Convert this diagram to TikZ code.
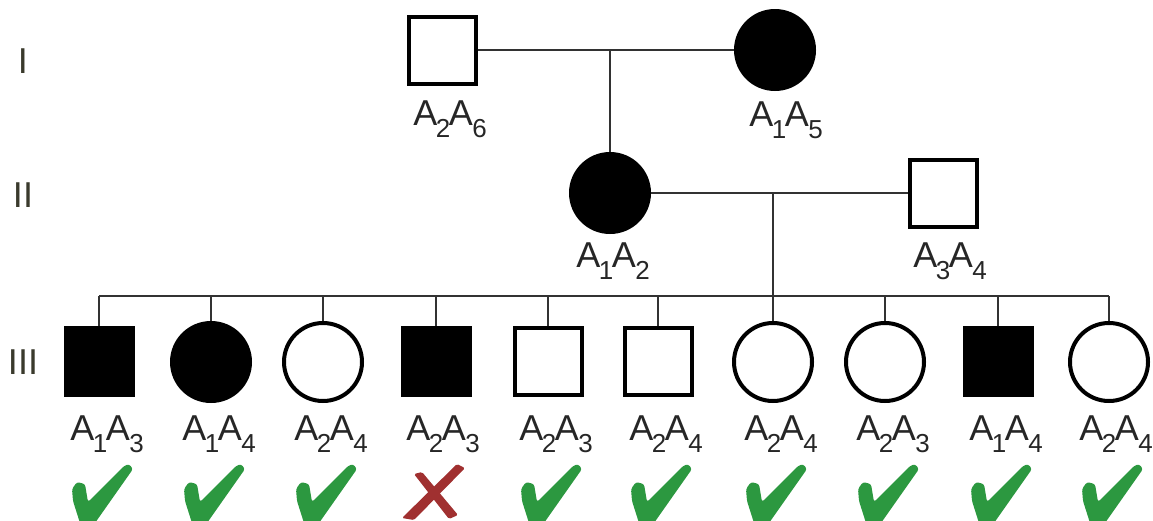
\documentclass[tikz,border=0pt]{standalone}
\usepackage{fontspec}
\setmainfont{Liberation Sans}
\definecolor{chkgreen}{RGB}{44,152,64}
\definecolor{xred}{RGB}{160,48,48}
\definecolor{conn}{RGB}{50,50,50}
\definecolor{genlab}{RGB}{58,58,44}
\newcommand{\gtp}[2]{A\kern-1.5pt\raisebox{-12pt}{\fontsize{26}{26}\selectfont #1}\kern-1.5pt A\kern-0.5pt\raisebox{-12pt}{\fontsize{26}{26}\selectfont #2}}
\tikzset{
  male/.style={rectangle, draw=black, line width=4pt, minimum size=67pt, inner sep=0pt, fill=white},
  female/.style={circle, draw=black, line width=4pt, minimum size=78pt, inner sep=0pt, fill=white},
  aff/.style={fill=black},
  line/.style={draw=conn, line width=2.2pt},
  gtlab/.style={anchor=base, inner sep=0pt, font=\fontsize{36}{40}\selectfont, text=black!85},
  gen/.style={anchor=center, inner sep=0pt, font=\fontsize{36}{40}\selectfont, text=genlab},
  chk/.pic={\fill[chkgreen, rounded corners=2.5pt] (-27,24) -- (-22,17) -- (-14,19) -- (-11,37) -- (25,1) -- (30,-1) -- (34,4) -- (-4,58) -- (-19,58) -- (-26,36) -- cycle;},
  xmark/.pic={\fill[xred, rounded corners=1.5pt] (21,-1) -- (29,3) -- (-22,55) -- (-34,53) -- cycle;
              \fill[xred, rounded corners=1.5pt] (-22,9) -- (-14,7) -- (22,50) -- (13,54) -- cycle;}
}
\begin{document}
\begin{tikzpicture}[x=1pt,y=-1pt]
\useasboundingbox (0,0) rectangle (1153,520);
\clip (0,0) rectangle (1153,520);
% generation labels
\node[gen] (gI) at (23,61) {I};
\node[gen] (gII) at (23,195) {II};
\node[gen] (gIII) at (23,362) {III};
% generation I
\node[male] (f1) at (442,50) {};
\node[female, aff] (m1) at (775,50) {};
\node[gtlab] (lf1) at (450,125) {\gtp{2}{6}};
\node[gtlab] (lm1) at (786,126) {\gtp{1}{5}};
% generation II
\node[female, aff] (p2) at (610,193) {};
\node[male] (p3) at (943,193) {};
\node[gtlab] (lp2) at (613,267) {\gtp{1}{2}};
\node[gtlab] (lp3) at (950,267) {\gtp{3}{4}};
% connectors I
\coordinate (c1) at (610,50);
\draw[line] (f1.east) -- (m1.west);
\draw[line] (c1) -- (p2.north);
% connectors II
\coordinate (c2) at (773,193);
\coordinate (s0) at (773,296);
\draw[line] (p2.east) -- (p3.west);
\draw[line] (c2) -- (s0);
% generation III
\node[male, aff] (k1) at (99,361) {};
\node[female, aff] (k2) at (211,362) {};
\node[female] (k3) at (323,362) {};
\node[male, aff] (k4) at (436,361) {};
\node[male] (k5) at (548,361) {};
\node[male] (k6) at (658,361) {};
\node[female] (k7) at (773,362) {};
\node[female] (k8) at (885,362) {};
\node[male, aff] (k9) at (998,361) {};
\node[female] (k10) at (1109,362) {};
\coordinate (sL) at (99,296);
\coordinate (sR) at (1109,296);
\draw[line] (sL) -- (sR);
\foreach \k in {1,...,10}{\draw[line] (k\k.north |- sL) -- (k\k.north);}
\node[gtlab] (l1) at (107,440) {\gtp{1}{3}};
\node[gtlab] (l2) at (219,440) {\gtp{1}{4}};
\node[gtlab] (l3) at (331,440) {\gtp{2}{4}};
\node[gtlab] (l4) at (443,440) {\gtp{2}{3}};
\node[gtlab] (l5) at (556,440) {\gtp{2}{3}};
\node[gtlab] (l6) at (666,440) {\gtp{2}{4}};
\node[gtlab] (l7) at (781,440) {\gtp{2}{4}};
\node[gtlab] (l8) at (893,440) {\gtp{2}{3}};
\node[gtlab] (l9) at (1006,440) {\gtp{1}{4}};
\node[gtlab] (l10) at (1116,440) {\gtp{2}{4}};
% marks
\pic at (99,465) {chk};
\pic at (211,465) {chk};
\pic at (323,465) {chk};
\pic at (436,465) {xmark};
\pic at (548,465) {chk};
\pic at (658,465) {chk};
\pic at (773,465) {chk};
\pic at (885,465) {chk};
\pic at (998,465) {chk};
\pic at (1109,465) {chk};
\end{tikzpicture}
\end{document}
